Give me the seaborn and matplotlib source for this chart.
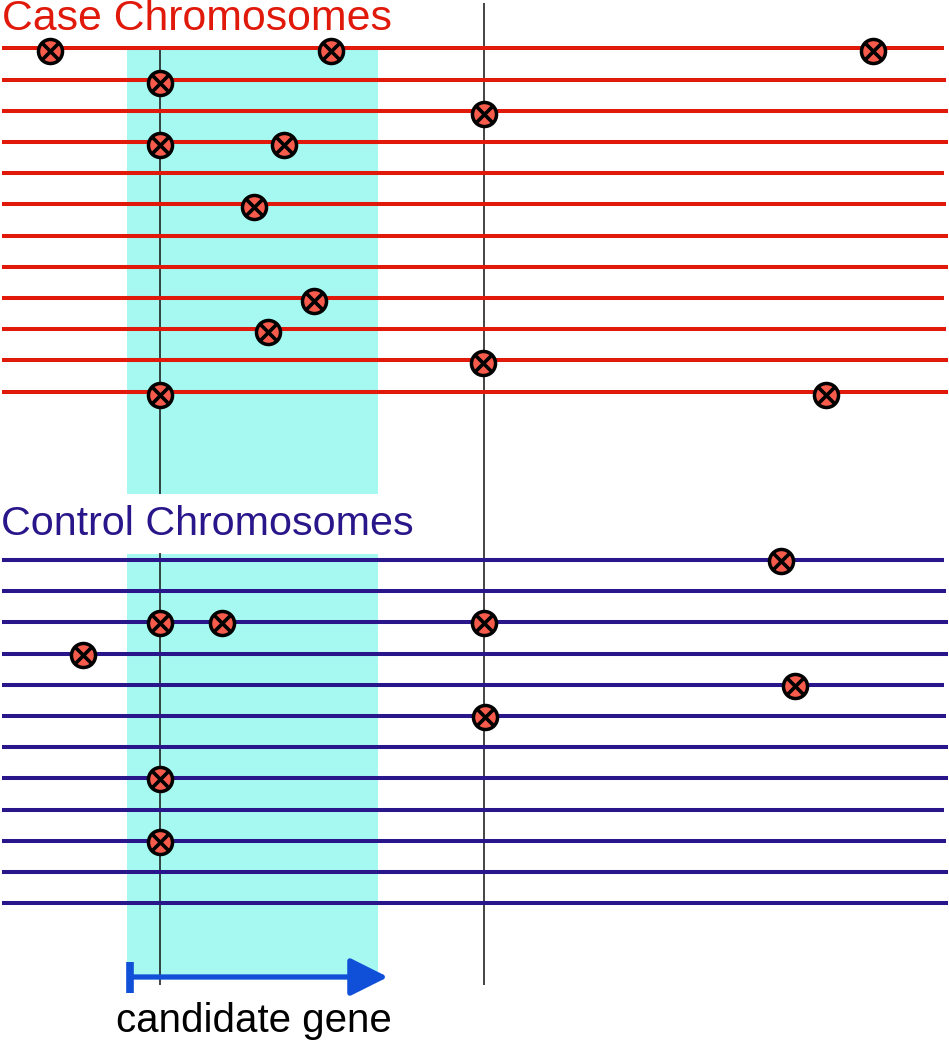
import matplotlib
matplotlib.use("Agg")
import matplotlib.pyplot as plt
from matplotlib.patches import Rectangle
import seaborn as sns
import pandas as pd

# ---------------- data ----------------
# chromosome positions (horizontal axis units ~ pixels of the original diagram)
case_variant_row = [0, 0, 0, 1, 2, 3, 3, 5, 8, 9, 10, 11, 11]
case_variant_pos = [50, 331, 873, 160, 484, 160, 284, 254, 314, 268, 483, 160, 826]

control_variant_row = [0, 2, 2, 2, 3, 4, 5, 7, 9]
control_variant_pos = [781, 160, 222, 484, 83, 795, 485, 160, 160]

case_line_end = [944, 946.5, 948, 948, 944, 946.5, 948, 948, 944, 946.5, 948, 948]
control_line_end = [944, 946.5, 948, 948, 944, 946.5, 948, 948, 944, 946.5, 948, 948]
line_start = 2

gene_start, gene_end = 127, 378
snp_positions = [160, 484]

case_title = "Case Chromosomes"
control_title = "Control Chromosomes"
gene_label = "candidate gene"

# ---------------- layout / style ----------------
RED = "#e0190a"
NAVY = "#28168a"
CYAN = "#a6f9f1"
MARK = "#f75b4c"
ARROW = "#1050d8"

case_top, control_top, row_gap = 48.3, 560.0, 31.2
n_rows = len(case_line_end)
case_y = [case_top + i * row_gap for i in range(n_rows)]
control_y = [control_top + i * row_gap for i in range(n_rows)]

sns.set_style("white")
plt.rcParams['font.family'] = ['Liberation Sans', 'DejaVu Sans']

fig = plt.figure(figsize=(9.49, 10.5), dpi=100)
ax = fig.add_axes([0, 0, 1, 1])
ax.set_xlim(0, 949)
ax.set_ylim(1050, 0)
ax.axis("off")

# candidate gene shaded regions
ax.add_patch(Rectangle((gene_start, 48), gene_end - gene_start, 494 - 48,
                       facecolor=CYAN, edgecolor="none", zorder=0))
ax.add_patch(Rectangle((gene_start, 554), gene_end - gene_start, 975 - 554,
                       facecolor=CYAN, edgecolor="none", zorder=0))

# vertical SNP lines
ax.vlines(snp_positions[0], 48, 494, color="#111111", lw=1.1, zorder=1)
ax.vlines(snp_positions[0], 553, 985, color="#111111", lw=1.1, zorder=1)
ax.vlines(snp_positions[1], 3, 985, color="#111111", lw=1.1, zorder=1)

# chromosomes
ax.hlines(case_y, line_start, case_line_end, color=RED, lw=2.9, zorder=2)
ax.hlines(control_y, line_start, control_line_end, color=NAVY, lw=2.9, zorder=2)

# variants
case_df = pd.DataFrame({"pos": case_variant_pos,
                        "y": [case_y[r] + 3 for r in case_variant_row]})
control_df = pd.DataFrame({"pos": control_variant_pos,
                           "y": [control_y[r] + 1 for r in control_variant_row]})
var_df = pd.concat([case_df, control_df], ignore_index=True)

sns.scatterplot(data=var_df, x="pos", y="y", ax=ax, marker="o", s=300,
                color=MARK, edgecolor="black", linewidth=2.5, zorder=5, legend=False)
sns.scatterplot(data=var_df, x="pos", y="y", ax=ax, marker="x", s=140,
                color="black", linewidth=2.6, zorder=6, legend=False)

# gene arrow
ax.annotate("", xy=(388, 977), xytext=(131, 977),
            arrowprops=dict(arrowstyle="-|>,head_length=0.4,head_width=0.2",
                            color=ARROW, lw=3.8, mutation_scale=58,
                            shrinkA=0, shrinkB=0), zorder=4)
ax.plot([130.5, 130.5], [962, 993], color=ARROW, lw=5.5, solid_capstyle="butt", zorder=4)

# texts
ax.text(2, 30, case_title, color=RED, fontsize=30.8, ha="left", va="baseline")
ax.text(1, 535, control_title, color=NAVY, fontsize=29.7, ha="left", va="baseline")
ax.text(116, 1032, gene_label, color="black", fontsize=29, ha="left", va="baseline")

ax.set_xlabel("")
ax.set_ylabel("")
fig.savefig("out.png", dpi=100)
